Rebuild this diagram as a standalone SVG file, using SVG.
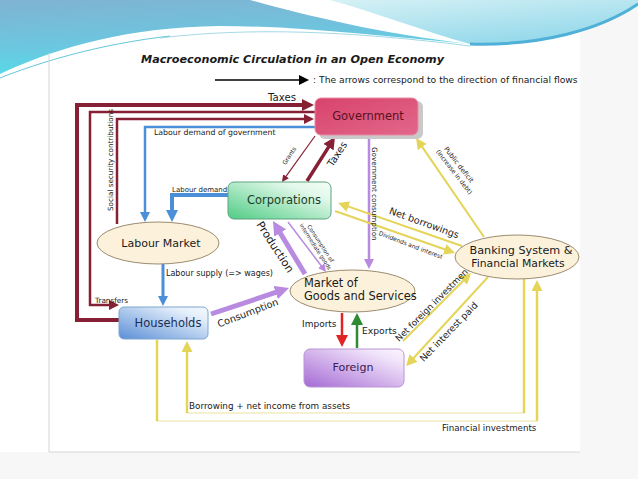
<svg xmlns="http://www.w3.org/2000/svg" width="638" height="479" viewBox="0 0 638 479">
<defs>
<style>
text{font-family:"DejaVu Sans","Liberation Sans",sans-serif;fill:#1a1a1a}
.node{font-size:11.5px}
.lbl{font-size:8px}
.ell{fill:#fcf2dc;stroke:#9c8b6e;stroke-width:1}
.mr{stroke:#862035;fill:none}
.bl{stroke:#4a8fd8;fill:none}
.pu{stroke:#b88ae0;fill:none}
.ye{stroke:#e4d458;fill:none}
.yp{stroke:#ece4a0;fill:none;stroke-width:1.2}
</style>
<linearGradient id="gWaveL" x1="0" y1="0" x2="0.25" y2="1"><stop offset="0" stop-color="#80b3d3"/><stop offset="0.6" stop-color="#6cc6df"/><stop offset="1" stop-color="#55dbe8"/></linearGradient>
<linearGradient id="gWaveR" x1="0" y1="0" x2="0.6" y2="1"><stop offset="0" stop-color="#d6f1f6"/><stop offset="1" stop-color="#92d8ea"/></linearGradient>
<linearGradient id="gGov" x1="0" y1="0" x2="1" y2="1"><stop offset="0" stop-color="#d8436c"/><stop offset="1" stop-color="#e2678a"/></linearGradient>
<linearGradient id="gCorp" x1="0" y1="1" x2="1" y2="0"><stop offset="0" stop-color="#4fcc84"/><stop offset="0.75" stop-color="#e2f8ea"/><stop offset="1" stop-color="#f4fdf7"/></linearGradient>
<linearGradient id="gHH" x1="0" y1="1" x2="1" y2="0"><stop offset="0" stop-color="#5b8fd6"/><stop offset="0.8" stop-color="#e6f0fb"/><stop offset="1" stop-color="#f4f8fd"/></linearGradient>
<linearGradient id="gFor" x1="0" y1="1" x2="1" y2="0"><stop offset="0" stop-color="#a56ad4"/><stop offset="0.8" stop-color="#f1e4fa"/><stop offset="1" stop-color="#fbf6fe"/></linearGradient>
<marker id="mrL" viewBox="0 0 10 10" refX="4" refY="5" markerWidth="12" markerHeight="12" markerUnits="userSpaceOnUse" orient="auto"><path d="M0,0L10,5L0,10z" fill="#862035"/></marker>
<marker id="mrM" viewBox="0 0 10 10" refX="4" refY="5" markerWidth="10" markerHeight="10" markerUnits="userSpaceOnUse" orient="auto"><path d="M0,0L10,5L0,10z" fill="#862035"/></marker>
<marker id="mrS" viewBox="0 0 10 10" refX="4" refY="5" markerWidth="7" markerHeight="7" markerUnits="userSpaceOnUse" orient="auto"><path d="M0,0L10,5L0,10z" fill="#862035"/></marker>
<marker id="mbL" viewBox="0 0 10 10" refX="4" refY="5" markerWidth="12" markerHeight="12" markerUnits="userSpaceOnUse" orient="auto"><path d="M0,0L10,5L0,10z" fill="#4a8fd8"/></marker>
<marker id="mbM" viewBox="0 0 10 10" refX="4" refY="5" markerWidth="10" markerHeight="10" markerUnits="userSpaceOnUse" orient="auto"><path d="M0,0L10,5L0,10z" fill="#4a8fd8"/></marker>
<marker id="mpL" viewBox="0 0 10 10" refX="4" refY="5" markerWidth="14" markerHeight="14" markerUnits="userSpaceOnUse" orient="auto"><path d="M0,0L10,5L0,10z" fill="#b88ae0"/></marker>
<marker id="mpM" viewBox="0 0 10 10" refX="4" refY="5" markerWidth="10" markerHeight="10" markerUnits="userSpaceOnUse" orient="auto"><path d="M0,0L10,5L0,10z" fill="#b88ae0"/></marker>
<marker id="mpS" viewBox="0 0 10 10" refX="4" refY="5" markerWidth="8" markerHeight="8" markerUnits="userSpaceOnUse" orient="auto"><path d="M0,0L10,5L0,10z" fill="#b88ae0"/></marker>
<marker id="mred" viewBox="0 0 10 10" refX="4" refY="5" markerWidth="12" markerHeight="12" markerUnits="userSpaceOnUse" orient="auto"><path d="M0,0L10,5L0,10z" fill="#e02424"/></marker>
<marker id="mgr" viewBox="0 0 10 10" refX="4" refY="5" markerWidth="12" markerHeight="12" markerUnits="userSpaceOnUse" orient="auto"><path d="M0,0L10,5L0,10z" fill="#2e8b32"/></marker>
<marker id="myM" viewBox="0 0 10 10" refX="4" refY="5" markerWidth="11" markerHeight="11" markerUnits="userSpaceOnUse" orient="auto"><path d="M0,0L10,5L0,10z" fill="#e4d458"/></marker>
<marker id="mk" viewBox="0 0 10 10" refX="4" refY="5" markerWidth="10" markerHeight="10" markerUnits="userSpaceOnUse" orient="auto"><path d="M0,0L10,5L0,10z" fill="#000"/></marker>
</defs>

<!-- background -->
<rect x="0" y="0" width="638" height="479" fill="#ffffff"/>
<rect x="580" y="0" width="58" height="479" fill="#f7f7f7"/>
<rect x="0" y="452" width="638" height="27" fill="#f7f7f7"/>
<rect x="49" y="53" width="531" height="399" fill="#ffffff"/>
<path d="M0,0 H250 C300,14 380,34 470,44 C380,36 300,26 220,26 C130,27 60,46 0,74 Z" fill="url(#gWaveL)"/>
<path d="M330,0 H638 V4 C610,24 560,42 500,45 C485,45 470,44 470,44 C420,30 380,14 330,0 Z" fill="url(#gWaveR)"/>
<path d="M470,44 C540,46 600,30 638,4" fill="none" stroke="#4fb0d8" stroke-width="3"/>
<path d="M0,78 C40,62 100,44 170,36" fill="none" stroke="#3fb8d0" stroke-width="0.8"/>
<path d="M160,38 C250,27 350,31 470,46" fill="none" stroke="#8ccfe0" stroke-width="0.8"/>
<path d="M49,53 V452 H580" fill="none" stroke="#d6d6d6" stroke-width="1"/>

<!-- title and legend -->
<text x="141" y="63" style="font-size:11.2px;font-weight:bold;font-style:italic">Macroeconomic Circulation in an Open Economy</text>
<g id="legend">
<path d="M215,80 H303" stroke="#000" stroke-width="1.6" fill="none" marker-end="url(#mk)"/>
<text x="313" y="83" style="font-size:9.2px">: The arrows correspond to the direction of financial flows</text>
</g>

<!-- connectors -->
<g id="connectors">
<path class="mr" stroke-width="4" d="M120,320 H77 V105 H306.8" marker-end="url(#mrL)"/>
<path class="mr" stroke-width="2.5" d="M315,112 H90 V305 H113" marker-end="url(#mrM)"/>
<path class="mr" stroke-width="2.5" d="M117,224 V119 H308" marker-end="url(#mrM)"/>
<path class="bl" stroke-width="2.5" d="M315,127 H145 V216" marker-end="url(#mbM)"/>
<path class="bl" stroke-width="4" d="M228,195 H172 V214.8" marker-end="url(#mbL)"/>
<path class="bl" stroke-width="3" d="M163,264 V300" marker-end="url(#mbM)"/>
<path class="mr" stroke-width="3.5" d="M307,181 L331.1,143.1" marker-end="url(#mrL)"/>
<path class="mr" stroke-width="1.2" d="M315,136 L284.4,178.6" marker-end="url(#mrS)"/>
<path class="pu" stroke-width="2.5" d="M369,138 V263" marker-end="url(#mpM)"/>
<path class="pu" stroke-width="5" d="M305,274 L277.3,228.2" marker-end="url(#mpL)"/>
<path class="pu" stroke-width="1.5" d="M288,222 L323.1,268.2" marker-end="url(#mpS)"/>
<path class="pu" stroke-width="5" d="M211,314 L281,290.7" marker-end="url(#mpL)"/>
<path stroke="#e02424" fill="none" stroke-width="2.5" d="M342,313 V339.8" marker-end="url(#mred)"/>
<path stroke="#2e8b32" fill="none" stroke-width="2.5" d="M357,348 V320.2" marker-end="url(#mgr)"/>
<path class="ye" stroke-width="2" d="M484,237 L419.8,143.4" marker-end="url(#myM)"/>
<path class="ye" stroke-width="2" d="M462,246 L344.3,205.1" marker-end="url(#myM)"/>
<path class="ye" stroke-width="2" d="M335,211 L448.8,250.8" marker-end="url(#myM)"/>
<path class="ye" stroke-width="2" d="M403,341 L466.3,277.7" marker-end="url(#myM)"/>
<path class="ye" stroke-width="2" d="M488,277 L410.6,361.2" marker-end="url(#myM)"/>
<path class="yp" d="M157,340 V421 H537 V290"/>
<path class="ye" stroke-width="2.5" d="M157,340 V421"/>
<path class="ye" stroke-width="2.5" d="M537,421 V286.6" marker-end="url(#myM)"/>
<path class="yp" d="M524,279 V413 H187 V350"/>
<path class="ye" stroke-width="2.5" d="M524,279 V413"/>
<path class="ye" stroke-width="2.5" d="M187,413 V347.6" marker-end="url(#myM)"/>

<text x="268" y="101" style="font-size:10.2px">Taxes</text>
<text x="154" y="135" style="font-size:7.8px">Labour demand of government</text>
<text transform="translate(113,160) rotate(-90)" text-anchor="middle" style="font-size:7.2px">Social security contributions</text>
<text x="172" y="192" style="font-size:7px">Labour demand</text>
<text transform="translate(291,157) rotate(-56)" text-anchor="middle" style="font-size:6px">Grants</text>
<text transform="translate(340,156) rotate(-57)" text-anchor="middle" style="font-size:10px">Taxes</text>
<text transform="translate(372,147) rotate(90)" style="font-size:7.2px">Government consumption</text>
<g transform="translate(457,166) rotate(52)">
<text x="0" y="0" text-anchor="middle" style="font-size:6.8px">Public deficit</text>
<text x="3" y="8" text-anchor="middle" style="font-size:6.2px">(increase in debt)</text>
</g>
<text transform="translate(423,226) rotate(20)" text-anchor="middle" style="font-size:9.7px">Net borrowings</text>
<text transform="translate(410,247) rotate(21)" text-anchor="middle" style="font-size:6px">Dividends and interest</text>
<text transform="translate(272,249) rotate(57)" text-anchor="middle" style="font-size:11px">Production</text>
<g transform="translate(318,245) rotate(57)">
<text x="0" y="-1" text-anchor="middle" style="font-size:5.5px">Consumption of</text>
<text x="0" y="5" text-anchor="middle" style="font-size:5.5px">intermediate goods</text>
</g>
<text transform="translate(249,316) rotate(-21)" text-anchor="middle" style="font-size:9.7px">Consumption</text>
<text x="166" y="276" style="font-size:8px">Labour supply (=&gt; wages)</text>
<text x="95" y="303" style="font-size:7.3px">Transfers</text>
<text x="302" y="327" style="font-size:9px">Imports</text>
<text x="362" y="334" style="font-size:9.2px">Exports</text>
<text transform="translate(435,306) rotate(-45)" text-anchor="middle" style="font-size:8.8px">Net foreign investment</text>
<text transform="translate(451,334) rotate(-46)" text-anchor="middle" style="font-size:9.4px">Net interest paid</text>
<text x="189" y="409" style="font-size:8.8px">Borrowing + net income from assets</text>
<text x="442" y="431" style="font-size:8.7px">Financial investments</text>
</g>

<!-- nodes -->
<g id="government">
<rect x="319" y="101" width="104" height="38" rx="6" fill="#c9c9c9"/>
<rect x="315" y="98" width="103" height="37" rx="6" fill="url(#gGov)" stroke="#e88aa4" stroke-width="1"/>
<text class="node" x="368" y="120" text-anchor="middle" style="fill:#5a1020">Government</text>
</g>
<g id="corporations">
<rect x="228" y="182" width="103" height="37" rx="6" fill="url(#gCorp)" stroke="#5fa37e" stroke-width="1"/>
<text class="node" x="284" y="204" text-anchor="middle" style="fill:#1d3d2a">Corporations</text>
</g>
<g id="labour-market">
<ellipse class="ell" cx="158" cy="243" rx="61" ry="21"/>
<text x="161" y="247" text-anchor="middle" style="font-size:11px">Labour Market</text>
</g>
<g id="households">
<rect x="119" y="307" width="89" height="32" rx="5" fill="url(#gHH)" stroke="#7fa6d0" stroke-width="1"/>
<text class="node" x="168" y="327" text-anchor="middle" style="fill:#1a2f55">Households</text>
</g>
<g id="market">
<ellipse class="ell" cx="352.5" cy="291" rx="62.5" ry="21"/>
<text x="304" y="287" style="font-size:11.4px">Market of</text>
<text x="304" y="300" style="font-size:11.4px">Goods and Services</text>
</g>
<g id="foreign">
<rect x="304" y="349" width="100" height="38" rx="6" fill="url(#gFor)" stroke="#b994d6" stroke-width="1"/>
<text x="353" y="371" text-anchor="middle" style="font-size:11.1px;fill:#3a2050">Foreign</text>
</g>
<g id="banking">
<ellipse class="ell" cx="517" cy="257" rx="62" ry="22"/>
<text x="521" y="254" text-anchor="middle" style="font-size:11.2px">Banking System &amp;</text>
<text x="518" y="267" text-anchor="middle" style="font-size:10.8px">Financial Markets</text>
</g>
</svg>
